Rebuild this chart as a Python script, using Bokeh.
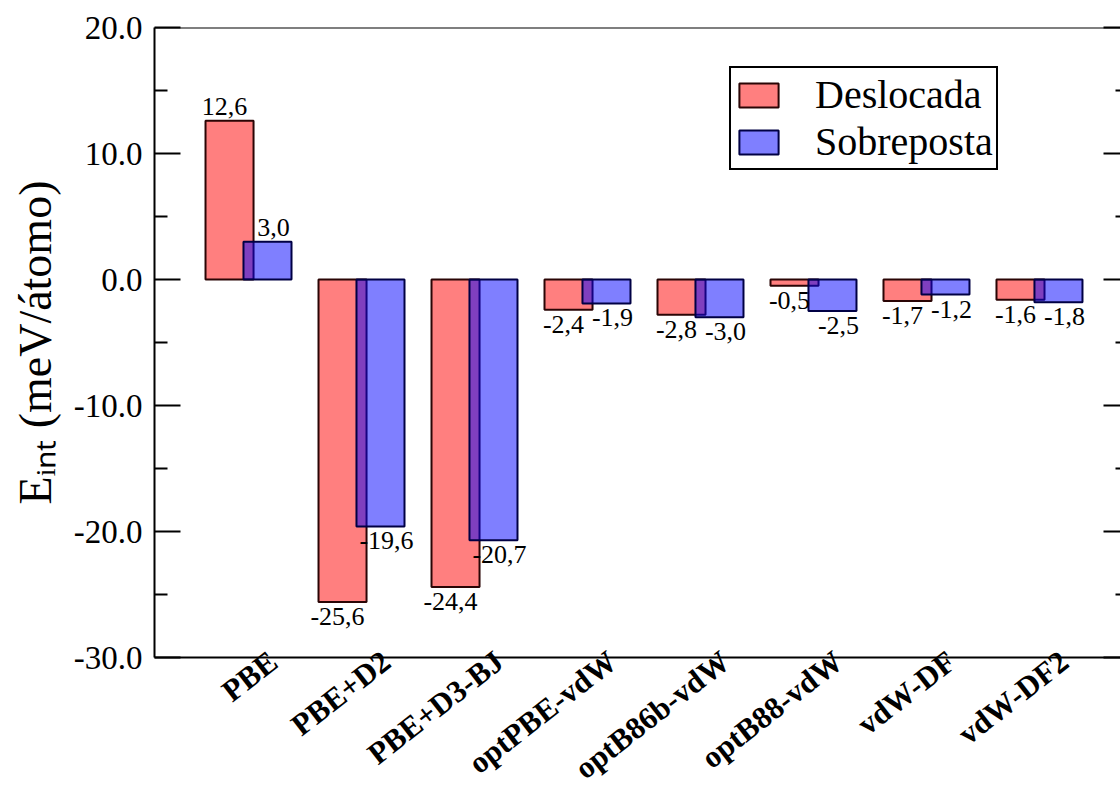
import math
from bokeh.plotting import figure
from bokeh.models import (ColumnDataSource, FixedTicker, LinearAxis, Range1d,
                          Legend, LegendItem, Span, PrintfTickFormatter)
from bokeh.transform import dodge
from bokeh.core.properties import value
from bokeh.embed import file_html
from bokeh.resources import INLINE

# ---------------- data ----------------
categories = ["PBE", "PBE+D2", "PBE+D3-BJ", "optPBE-vdW",
              "optB86b-vdW", "optB88-vdW", "vdW-DF", "vdW-DF2"]
deslocada = [12.6, -25.6, -24.4, -2.4, -2.8, -0.5, -1.7, -1.6]
sobreposta = [3.0, -19.6, -20.7, -1.9, -3.0, -2.5, -1.2, -1.8]
series_names = ["Deslocada", "Sobreposta"]
y_major_ticks = [-30, -20, -10, 0, 10, 20]
y_minor_ticks = [-25, -15, -5, 5, 15]
y_label = "E\u1d62\u2099\u209c (meV/átomo)"

FONT = "Liberation Serif"


def fmt(v):
    return f"{v:.1f}".replace(".", ",")


xs = list(range(len(categories)))
label_shift = 0.22  # rotated category labels sit slightly right of the bar groups
x_label_ticks = [i + label_shift for i in xs]

src = ColumnDataSource(dict(
    x=xs,
    d=deslocada,
    s=sobreposta,
    dl=[fmt(v) for v in deslocada],
    sl=[fmt(v) for v in sobreposta],
    db=["bottom" if v > 0 else "top" for v in deslocada],
    sb=["bottom" if v > 0 else "top" for v in sobreposta],
    dyo=[-6 if v > 0 else 6 for v in deslocada],
    syo=[-6 if v > 0 else 6 for v in sobreposta],
))

p = figure(width=1120, height=802,
           x_range=Range1d(-0.832, 7.717), y_range=Range1d(-30, 20),
           output_backend="svg", toolbar_location=None,
           min_border_left=154, min_border_right=0,
           min_border_top=27, min_border_bottom=144)
p.xgrid.visible = False
p.ygrid.visible = False
p.outline_line_color = None
p.background_fill_color = "white"

# left axis
ya = p.yaxis[0]
ya.ticker = FixedTicker(ticks=y_major_ticks, minor_ticks=y_minor_ticks)
ya.formatter = PrintfTickFormatter(format="%.1f")
ya.major_tick_in = 26
ya.major_tick_out = 0
ya.minor_tick_in = 13
ya.minor_tick_out = 0
ya.axis_line_width = 2
ya.major_tick_line_width = 2
ya.minor_tick_line_width = 2
ya.major_label_text_font = FONT
ya.major_label_text_font_size = "33px"
ya.major_label_text_color = "black"
ya.major_label_standoff = 12
ya.axis_label = y_label
ya.axis_label_text_font = FONT
ya.axis_label_text_font_size = "46px"
ya.axis_label_text_font_style = "normal"
ya.axis_label_text_color = "black"
ya.axis_label_standoff = 10

# right axis (ticks only)
ra = LinearAxis(ticker=FixedTicker(ticks=y_major_ticks, minor_ticks=y_minor_ticks),
                major_tick_in=17, major_tick_out=0, minor_tick_in=5, minor_tick_out=0,
                axis_line_color=None, major_tick_line_width=2, minor_tick_line_width=2,
                major_label_overrides={t: "" for t in y_major_ticks},
                major_label_standoff=0)
p.add_layout(ra, "right")

# bottom axis
xa = p.xaxis[0]
xa.ticker = FixedTicker(ticks=x_label_ticks)
xa.major_label_overrides = {t: c for t, c in zip(x_label_ticks, categories)}
xa.major_tick_in = 0
xa.major_tick_out = 0
xa.minor_tick_line_color = None
xa.axis_line_width = 2
xa.major_label_orientation = math.radians(38)
xa.major_label_text_font = FONT
xa.major_label_text_font_style = "bold"
xa.major_label_text_font_size = "31px"
xa.major_label_text_color = "black"
xa.major_label_standoff = 0

# top border
p.add_layout(Span(location=p.y_range.end, dimension="width",
                  line_color="black", line_width=2))

# bars
off = 0.168
bw = 0.425
r1 = p.vbar(x=dodge("x", -off, range=p.x_range), top="d", bottom=0, width=bw,
            fill_color="red", fill_alpha=0.5, line_color="#2a0505", line_width=2,
            source=src)
r2 = p.vbar(x=dodge("x", off, range=p.x_range), top="s", bottom=0, width=bw,
            fill_color="blue", fill_alpha=0.5, line_color="#000044", line_width=2,
            source=src)

# value labels
p.text(x=dodge("x", -off, range=p.x_range), y="d", text="dl",
       text_baseline="db", y_offset="dyo", x_offset=-5, text_align="center",
       text_font=value(FONT), text_font_size="26px", text_color="black", source=src)
p.text(x=dodge("x", off, range=p.x_range), y="s", text="sl",
       text_baseline="sb", y_offset="syo", x_offset=6, text_align="center",
       text_font=value(FONT), text_font_size="26px", text_color="black", source=src)

# legend
legend = Legend(items=[LegendItem(label=series_names[0], renderers=[r1]),
                       LegendItem(label=series_names[1], renderers=[r2])],
                location=(575, 487))
legend.border_line_color = "black"
legend.border_line_alpha = 1
legend.border_line_width = 2
legend.glyph_width = 49
legend.glyph_height = 30
legend.label_text_font = FONT
legend.label_text_font_size = "40px"
legend.label_text_color = "black"
legend.label_height = 0
legend.padding = 3
legend.spacing = 0
legend.label_standoff = 32
legend.margin = 0
legend.background_fill_alpha = 1
p.add_layout(legend, "center")

open("out.html", "w").write(file_html(p, INLINE))
